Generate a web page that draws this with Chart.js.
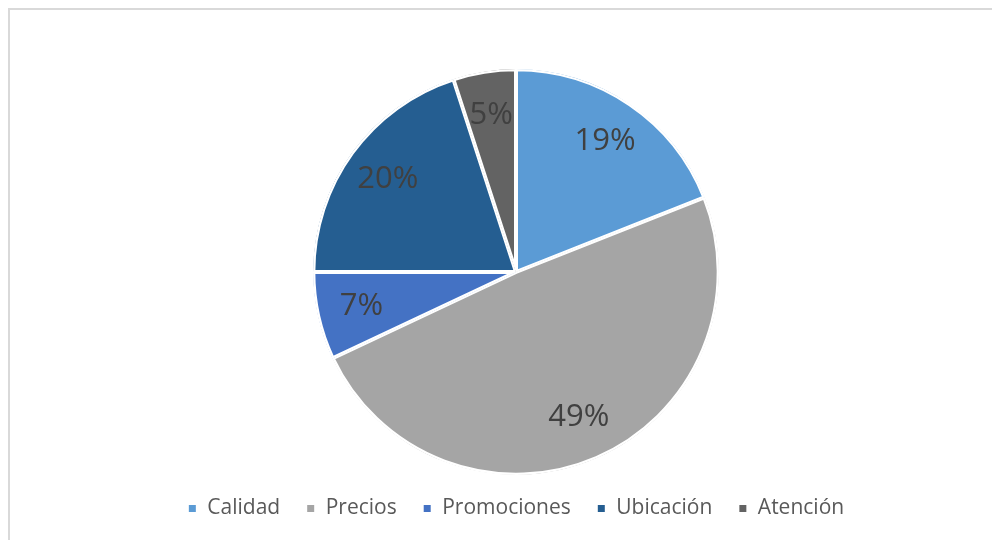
<!DOCTYPE html>
<html>
<head>
<meta charset="utf-8">
<script src="https://cdn.jsdelivr.net/npm/chart.js@4"></script>
<style>
  body { margin: 0; background: #fff; }
  #wrap { position: relative; width: 992px; height: 540px; }
  #frame {
    position: absolute; left: 8px; top: 8px; right: 0; bottom: 0;
    border-top: 2px solid #d9d9d9; border-left: 2px solid #d9d9d9;
    pointer-events: none;
  }
  canvas { position: absolute; left: 0; top: 0; }
</style>
</head>
<body>
<div id="wrap">
  <canvas id="pieChart" width="992" height="540"></canvas>
  <div id="frame"></div>
</div>
<script>
const categories = ["Calidad", "Precios", "Promociones", "Ubicación", "Atención"];
const shares = [19, 49, 7, 20, 5];
const sliceColors = ["#5B9BD5", "#A5A5A5", "#4472C4", "#255E91", "#636363"];

// percentage labels inside each slice
const sliceLabels = {
  id: "sliceLabels",
  afterDatasetsDraw(chart) {
    const ctx = chart.ctx;
    const total = shares.reduce((a, b) => a + b, 0);
    ctx.save();
    ctx.font = "31px 'Open Sans'";
    ctx.fillStyle = "#404040";
    ctx.textAlign = "center";
    ctx.textBaseline = "middle";
    chart.getDatasetMeta(0).data.forEach((arc, i) => {
      const mid = (arc.startAngle + arc.endAngle) / 2;
      const r = arc.outerRadius * 0.78;
      const x = arc.x + Math.cos(mid) * r;
      const y = arc.y + Math.sin(mid) * r;
      ctx.fillText(Math.round(shares[i] / total * 100) + "%", x, y);
    });
    ctx.restore();
  }
};

const pieChart = new Chart(document.getElementById("pieChart").getContext("2d"), {
  type: "pie",
  data: {
    labels: categories,
    datasets: [{
      data: shares,
      backgroundColor: sliceColors,
      borderColor: "#ffffff",
      borderWidth: 2,
      borderAlign: "inner",
      radius: 203
    }]
  },
  options: {
    responsive: false,
    animation: false,
    layout: { padding: { left: 40, right: 0, top: 72, bottom: 11 } },
    plugins: {
      tooltip: { enabled: false },
      legend: {
        position: "bottom",
        labels: {
          font: { family: "'Open Sans'", size: 21 },
          color: "#595959",
          usePointStyle: true,
          pointStyle: "rect",
          boxWidth: 9,
          boxHeight: 9,
          padding: 26
        }
      }
    }
  },
  plugins: [sliceLabels]
});
</script>
</body>
</html>
